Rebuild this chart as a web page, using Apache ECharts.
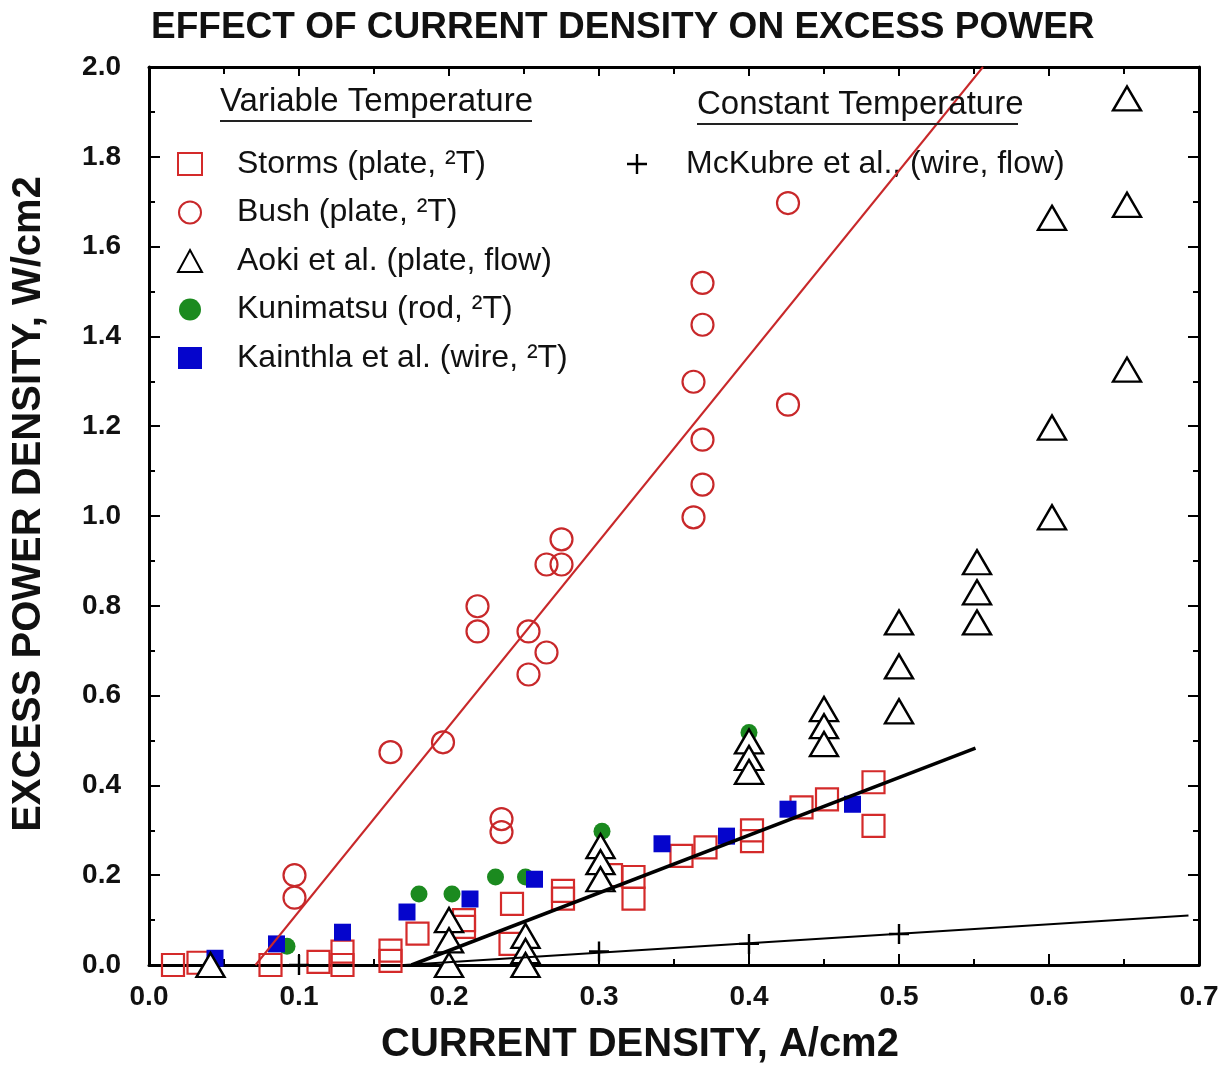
<!DOCTYPE html>
<html>
<head>
<meta charset="utf-8">
<script src="https://cdn.jsdelivr.net/npm/echarts@6/dist/echarts.min.js"></script>
<style>
  html, body { margin: 0; padding: 0; background: #fff; }
  #chart { width: 1223px; height: 1070px; }
</style>
</head>
<body>
<div id="chart"></div>
<script>
// ---- data ----
var xTickLabels = ['0.0', '0.1', '0.2', '0.3', '0.4', '0.5', '0.6', '0.7'];
var yTickLabels = ['0.0', '0.2', '0.4', '0.6', '0.8', '1.0', '1.2', '1.4', '1.6', '1.8', '2.0'];

var storms = [
  [0.016, 0.0], [0.033, 0.005], [0.081, 0.0], [0.113, 0.007], [0.129, 0.0], [0.129, 0.03],
  [0.161, 0.009], [0.161, 0.032], [0.179, 0.07], [0.21, 0.1], [0.21, 0.085], [0.241, 0.047],
  [0.242, 0.136], [0.276, 0.165], [0.276, 0.148], [0.308, 0.2], [0.323, 0.196], [0.323, 0.148],
  [0.355, 0.243], [0.371, 0.262], [0.402, 0.3], [0.402, 0.276], [0.435, 0.351], [0.452, 0.369],
  [0.483, 0.407], [0.483, 0.31]
];
var bush = [
  [0.097, 0.2], [0.097, 0.15], [0.161, 0.474], [0.196, 0.496], [0.219, 0.799], [0.219, 0.743],
  [0.235, 0.325], [0.235, 0.296], [0.253, 0.743], [0.253, 0.647], [0.265, 0.696], [0.265, 0.892],
  [0.275, 0.892], [0.275, 0.948], [0.363, 0.997], [0.363, 1.299], [0.369, 1.07], [0.369, 1.17],
  [0.369, 1.426], [0.369, 1.519], [0.426, 1.248], [0.426, 1.697]
];
var aoki = [
  [0.041, 0.0], [0.2, 0.1], [0.2, 0.055], [0.2, 0.0], [0.251, 0.065], [0.251, 0.031], [0.251, 0.0],
  [0.301, 0.265], [0.301, 0.229], [0.301, 0.191], [0.4, 0.498], [0.4, 0.461], [0.4, 0.43],
  [0.45, 0.57], [0.45, 0.532], [0.45, 0.492], [0.5, 0.763], [0.5, 0.665], [0.5, 0.565],
  [0.552, 0.897], [0.552, 0.83], [0.552, 0.763], [0.602, 0.997], [0.602, 1.197], [0.602, 1.664],
  [0.652, 1.326], [0.652, 1.693], [0.652, 1.93]
];
var kunimatsu = [
  [0.092, 0.042], [0.18, 0.158], [0.202, 0.158], [0.231, 0.196], [0.251, 0.196], [0.302, 0.298], [0.4, 0.518]
];
var kainthla = [
  [0.044, 0.015], [0.085, 0.047], [0.129, 0.073], [0.172, 0.118], [0.214, 0.147], [0.257, 0.191],
  [0.342, 0.27], [0.385, 0.287], [0.426, 0.347], [0.469, 0.358]
];
var mckubre = [[0.1, 0.0], [0.3, 0.03], [0.4, 0.047], [0.5, 0.069]];

var bushFit = [[0.071, 0.0], [0.556, 2.0]];
var stormsFit = [[0.175, 0.0], [0.551, 0.483]];
var mckubreFit = [[0.17, 0.0], [0.693, 0.11]];

var names = {
  storms: 'Storms (plate, \u00B2T)',
  bush: 'Bush (plate, \u00B2T)',
  aoki: 'Aoki et al. (plate, flow)',
  kunimatsu: 'Kunimatsu (rod, \u00B2T)',
  kainthla: 'Kainthla et al. (wire, \u00B2T)',
  mckubre: 'McKubre et al., (wire, flow)'
};

// ---- chart ----
var FONT = '"Liberation Sans", Arial, Helvetica, sans-serif';
var RED = '#d42a2a';
var chart = echarts.init(document.getElementById('chart'), null, { renderer: 'canvas' });

function xFmt(v) { var i = Math.round(v * 10); return xTickLabels[i] !== undefined ? xTickLabels[i] : ''; }
function yFmt(v) { var i = Math.round(v * 5); return yTickLabels[i] !== undefined ? yTickLabels[i] : ''; }

var axisLine = { show: true, onZero: false, lineStyle: { color: '#000', width: 3 } };
var plusPath = 'path://M4.4,0H5.6V4.4H10V5.6H5.6V10H4.4V5.6H0V4.4H4.4Z';

var option = {
  backgroundColor: '#fff',
  animation: false,
  textStyle: { fontFamily: FONT },
  title: {
    text: 'EFFECT OF CURRENT DENSITY ON EXCESS POWER',
    left: 146, top: 4,
    textStyle: { fontFamily: FONT, fontSize: 37, fontWeight: 'bold', color: '#111' }
  },
  grid: { left: 149, right: 24, top: 67, bottom: 104, containLabel: false },
  legend: [
    {
      data: [names.storms, names.bush, names.aoki, names.kunimatsu, names.kainthla],
      orient: 'vertical', left: 172, top: 143,
      itemWidth: 24, itemHeight: 22, itemGap: 16.5,
      symbolKeepAspect: true,
      selectedMode: false,
      textStyle: { fontFamily: FONT, fontSize: 32, color: '#111', lineHeight: 32, padding: [0, 0, 0, 30] }
    },
    {
      data: [names.mckubre],
      orient: 'vertical', left: 622, top: 143,
      itemWidth: 20, itemHeight: 20, itemGap: 16.5,
      symbolKeepAspect: true,
      selectedMode: false,
      textStyle: { fontFamily: FONT, fontSize: 32, color: '#111', lineHeight: 32, padding: [0, 0, 0, 34] }
    }
  ],
  xAxis: [
    {
      type: 'value', min: 0, max: 0.7, interval: 0.1, position: 'bottom',
      axisLine: axisLine,
      axisTick: { show: true, inside: true, length: 11, lineStyle: { color: '#000', width: 2 } },
      minorTick: { show: true, splitNumber: 2, length: 6, lineStyle: { color: '#000', width: 2 } },
      splitLine: { show: false },
      axisLabel: { fontFamily: FONT, fontSize: 28, fontWeight: 'bold', color: '#111', margin: 18, formatter: xFmt },
      name: 'CURRENT DENSITY, A/cm2', nameLocation: 'middle', nameGap: 60,
      nameTextStyle: { fontFamily: FONT, fontSize: 40, fontWeight: 'bold', color: '#111', padding: [0, 68, 0, 0] }
    },
    {
      type: 'value', min: 0, max: 0.7, interval: 0.1, position: 'top',
      axisLine: axisLine,
      axisTick: { show: true, inside: true, length: 9, lineStyle: { color: '#000', width: 2 } },
      minorTick: { show: true, splitNumber: 2, length: 7, lineStyle: { color: '#000', width: 2 } },
      splitLine: { show: false },
      axisLabel: { show: false }
    }
  ],
  yAxis: [
    {
      type: 'value', min: 0, max: 2.0, interval: 0.2, position: 'left',
      axisLine: axisLine,
      axisTick: { show: true, inside: true, length: 11, lineStyle: { color: '#000', width: 2 } },
      minorTick: { show: true, splitNumber: 2, length: 6, lineStyle: { color: '#000', width: 2 } },
      splitLine: { show: false },
      axisLabel: { fontFamily: FONT, fontSize: 28, fontWeight: 'bold', color: '#111', margin: 28, formatter: yFmt },
      name: 'EXCESS POWER DENSITY, W/cm2', nameLocation: 'middle', nameGap: 100,
      nameTextStyle: { fontFamily: FONT, fontSize: 40, fontWeight: 'bold', color: '#111', padding: [0, 0, 0, 24] }
    },
    {
      type: 'value', min: 0, max: 2.0, interval: 0.2, position: 'right',
      axisLine: axisLine,
      axisTick: { show: true, inside: true, length: 11, lineStyle: { color: '#000', width: 2 } },
      minorTick: { show: true, splitNumber: 2, length: 6, lineStyle: { color: '#000', width: 2 } },
      splitLine: { show: false },
      axisLabel: { show: false }
    }
  ],
  graphic: [
    { type: 'text', left: 220, top: 85, z: 10,
      style: { text: 'Variable Temperature', fontFamily: FONT, fontSize: 33, fill: '#111' } },
    { type: 'line', z: 10, shape: { x1: 220, y1: 121, x2: 532, y2: 121 }, style: { stroke: '#222', lineWidth: 2 } },
    { type: 'text', left: 697, top: 88, z: 10,
      style: { text: 'Constant Temperature', fontFamily: FONT, fontSize: 33, fill: '#111' } },
    { type: 'line', z: 10, shape: { x1: 697, y1: 124, x2: 1018, y2: 124 }, style: { stroke: '#222', lineWidth: 2 } }
  ],
  series: [
    {
      name: names.storms, type: 'scatter', data: storms, symbol: 'rect', symbolSize: 22, z: 2,
      itemStyle: { color: 'rgba(255,255,255,0)', borderColor: RED, borderWidth: 2.2, opacity: 1 }
    },
    {
      name: names.bush, type: 'scatter', data: bush, symbol: 'circle', symbolSize: 22, z: 2,
      itemStyle: { color: 'rgba(255,255,255,0)', borderColor: '#c8282a', borderWidth: 2.2, opacity: 1 }
    },
    {
      name: names.kunimatsu, type: 'scatter', data: kunimatsu, symbol: 'circle', symbolSize: 17, z: 3,
      itemStyle: { color: '#1b8a1f', opacity: 1 }
    },
    {
      name: names.kainthla, type: 'scatter', data: kainthla, symbol: 'rect', symbolSize: 17, z: 3,
      itemStyle: { color: '#0505cc', opacity: 1 }
    },
    {
      name: names.aoki, type: 'scatter', data: aoki, symbol: 'triangle', symbolSize: [28, 24], z: 4,
      itemStyle: { color: '#fff', borderColor: '#000', borderWidth: 2.4, opacity: 1 }
    },
    {
      name: names.mckubre, type: 'scatter', data: mckubre, symbol: plusPath, symbolSize: 20, z: 4,
      itemStyle: { color: '#000', opacity: 1 }
    },
    {
      name: 'Bush fit', type: 'line', data: bushFit, symbol: 'none', z: 5, silent: true,
      lineStyle: { color: '#c8282a', width: 2 }
    },
    {
      name: 'Storms fit', type: 'line', data: stormsFit, symbol: 'none', z: 5, silent: true,
      lineStyle: { color: '#000', width: 3.5 }
    },
    {
      name: 'McKubre fit', type: 'line', data: mckubreFit, symbol: 'none', z: 5, silent: true,
      lineStyle: { color: '#000', width: 2 }
    }
  ]
};
chart.setOption(option);
</script>
</body>
</html>
